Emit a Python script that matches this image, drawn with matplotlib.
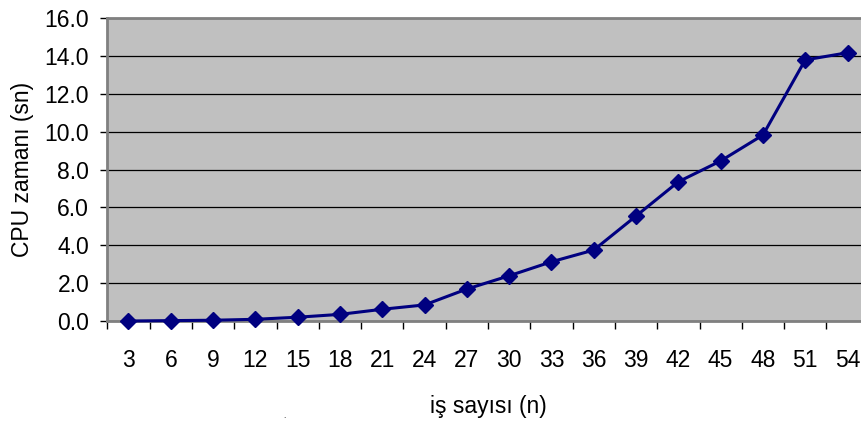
import matplotlib.pyplot as plt

plt.rcParams["font.family"] = ["Liberation Sans", "DejaVu Sans"]

# Number of jobs vs. CPU time (seconds)
jobs = ["3", "6", "9", "12", "15", "18", "21", "24", "27", "30",
        "33", "36", "39", "42", "45", "48", "51", "54"]
cpu_time = [0.0, 0.02, 0.04, 0.09, 0.2, 0.35, 0.62, 0.85, 1.69, 2.39,
            3.13, 3.75, 5.55, 7.36, 8.46, 9.83, 13.8, 14.18]
y_ticks = [0, 2, 4, 6, 8, 10, 12, 14, 16]

W, H = 861, 423
fig = plt.figure(figsize=(W / 100, H / 100), dpi=100)
# plot area runs off the right edge of the figure
ax = fig.add_axes([107.3 / W, (H - 321) / H, 761.4 / W, 302.7 / H])
ax.set_facecolor("#C0C0C0")

x = list(range(len(jobs)))
ax.plot(x, cpu_time, color="#000080", linewidth=2.2, marker="D",
        markersize=8.5, markerfacecolor="#000080", markeredgecolor="#000080",
        zorder=3, clip_on=False)

ax.set_xlim(-0.5, len(jobs) - 0.5)
ax.set_ylim(0, 16)
ax.set_yticks(y_ticks)
ax.set_yticklabels([f"{v:.1f}" for v in y_ticks])
ax.yaxis.grid(True, color="black", linewidth=0.9)
ax.set_axisbelow(True)

# category labels centred, tick marks on the category boundaries
ax.set_xticks(x)
ax.set_xticklabels(jobs)
ax.set_xticks([i - 0.5 for i in range(len(jobs) + 1)], minor=True)
ax.tick_params(axis="x", which="major", length=0, pad=20, labelsize=16.5)
ax.tick_params(axis="x", which="minor", length=6, width=1, color="black",
               direction="out")
ax.tick_params(axis="y", length=5, width=1, color="black", pad=8,
               labelsize=16.5)

for side in ["left", "bottom", "top"]:
    ax.spines[side].set_color("#808080")
    ax.spines[side].set_linewidth(2)
ax.spines["right"].set_visible(False)

ax.set_xlabel("iş sayısı (n)", fontsize=16.5, labelpad=17)
ax.set_ylabel("CPU zamanı (sn)", fontsize=16.5, labelpad=8)

fig.text(284 / W, 3 / H, ".", fontsize=6, ha="center", va="bottom")

fig.savefig("out.png", dpi=100)
